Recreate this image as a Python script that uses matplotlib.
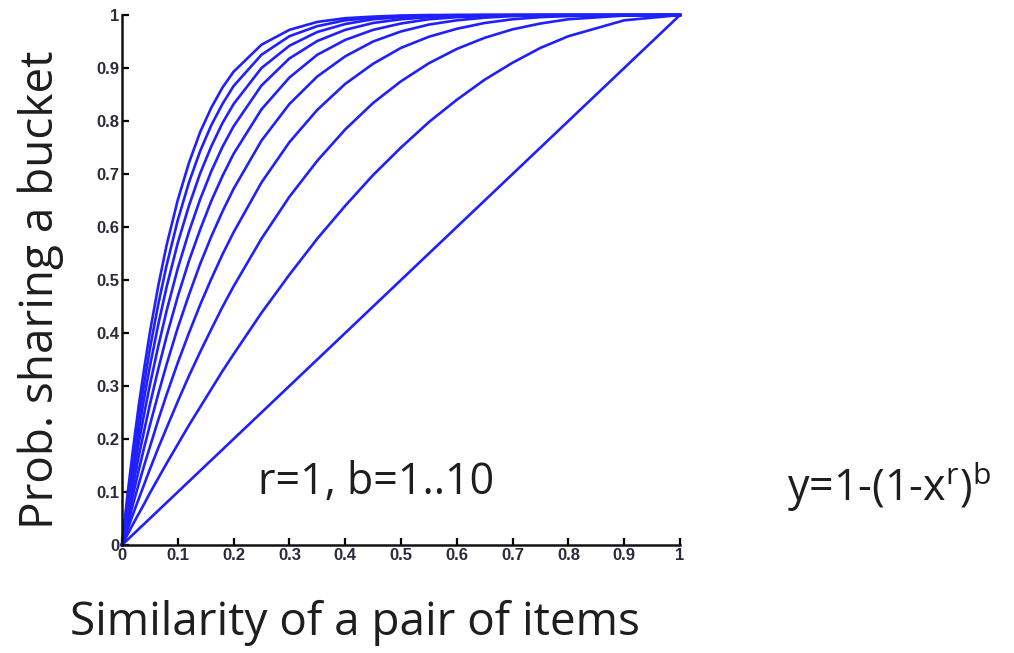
import matplotlib.pyplot as plt
from matplotlib.ticker import MultipleLocator

plt.rcParams['mathtext.fontset'] = 'custom'
plt.rcParams['mathtext.rm'] = 'Open Sans'

# similarity grid and bucket-sharing probability, r=1, b=1..10
similarity = [0, 0.01, 0.02, 0.03, 0.04, 0.05, 0.065, 0.08, 0.1, 0.12, 0.14, 0.16,
              0.18, 0.2, 0.25, 0.3, 0.35, 0.4, 0.45, 0.5, 0.55, 0.6, 0.65, 0.7,
              0.75, 0.8, 0.9, 1.0]

prob_b1 = [0, 0.01, 0.02, 0.03, 0.04, 0.05, 0.065, 0.08, 0.1, 0.12, 0.14, 0.16,
           0.18, 0.2, 0.25, 0.3, 0.35, 0.4, 0.45, 0.5, 0.55, 0.6, 0.65, 0.7,
           0.75, 0.8, 0.9, 1.0]
prob_b2 = [0, 0.020, 0.040, 0.059, 0.078, 0.098, 0.126, 0.154, 0.190, 0.226, 0.260, 0.294,
           0.328, 0.360, 0.438, 0.510, 0.578, 0.640, 0.698, 0.750, 0.798, 0.840, 0.878, 0.910,
           0.938, 0.960, 0.990, 1.0]
prob_b3 = [0, 0.030, 0.059, 0.087, 0.115, 0.143, 0.183, 0.221, 0.271, 0.319, 0.364, 0.407,
           0.449, 0.488, 0.578, 0.657, 0.725, 0.784, 0.834, 0.875, 0.909, 0.936, 0.957, 0.973,
           0.984, 0.992, 0.999, 1.0]
prob_b4 = [0, 0.039, 0.078, 0.115, 0.151, 0.185, 0.236, 0.284, 0.344, 0.400, 0.453, 0.502,
           0.548, 0.590, 0.684, 0.760, 0.821, 0.870, 0.908, 0.938, 0.959, 0.974, 0.985, 0.992,
           0.996, 0.998, 1.0, 1.0]
prob_b5 = [0, 0.049, 0.096, 0.141, 0.185, 0.226, 0.285, 0.341, 0.410, 0.472, 0.530, 0.582,
           0.629, 0.672, 0.763, 0.832, 0.884, 0.922, 0.950, 0.969, 0.982, 0.990, 0.995, 0.998,
           0.999, 1.0, 1.0, 1.0]
prob_b6 = [0, 0.059, 0.114, 0.167, 0.217, 0.265, 0.332, 0.394, 0.469, 0.536, 0.595, 0.649,
           0.696, 0.738, 0.822, 0.882, 0.925, 0.953, 0.972, 0.984, 0.992, 0.996, 0.998, 0.999,
           1.0, 1.0, 1.0, 1.0]
prob_b7 = [0, 0.068, 0.132, 0.192, 0.249, 0.302, 0.375, 0.442, 0.522, 0.591, 0.652, 0.705,
           0.751, 0.790, 0.867, 0.918, 0.951, 0.972, 0.985, 0.992, 0.996, 0.998, 0.999, 1.0,
           1.0, 1.0, 1.0, 1.0]
prob_b8 = [0, 0.077, 0.149, 0.216, 0.279, 0.337, 0.416, 0.487, 0.570, 0.640, 0.701, 0.752,
           0.796, 0.832, 0.900, 0.942, 0.968, 0.983, 0.992, 0.996, 0.998, 0.999, 1.0, 1.0,
           1.0, 1.0, 1.0, 1.0]
prob_b9 = [0, 0.086, 0.166, 0.240, 0.307, 0.370, 0.454, 0.528, 0.613, 0.684, 0.743, 0.792,
           0.832, 0.866, 0.925, 0.960, 0.979, 0.990, 0.995, 0.998, 0.999, 1.0, 1.0, 1.0,
           1.0, 1.0, 1.0, 1.0]
prob_b10 = [0, 0.096, 0.183, 0.263, 0.335, 0.401, 0.489, 0.566, 0.651, 0.721, 0.779, 0.825,
            0.863, 0.893, 0.944, 0.972, 0.987, 0.994, 0.997, 0.999, 1.0, 1.0, 1.0, 1.0,
            1.0, 1.0, 1.0, 1.0]

curves = [prob_b1, prob_b2, prob_b3, prob_b4, prob_b5,
          prob_b6, prob_b7, prob_b8, prob_b9, prob_b10]

fig = plt.figure(figsize=(10.14, 6.53), dpi=100)
ax = fig.add_axes([0.1203, 0.1654, 0.5503, 0.8116])

for ys in curves:
    ax.plot(similarity, ys, color='#2020ff', linewidth=1.9, clip_on=False)

ax.set_xlim(0, 1)
ax.set_ylim(0, 1)
ax.xaxis.set_major_locator(MultipleLocator(0.1))
ax.yaxis.set_major_locator(MultipleLocator(0.1))
ax.xaxis.set_major_formatter(lambda v, pos: '%g' % round(v, 1))
ax.yaxis.set_major_formatter(lambda v, pos: '%g' % round(v, 1))

for side in ['top', 'right']:
    ax.spines[side].set_visible(False)
for side in ['left', 'bottom']:
    ax.spines[side].set_linewidth(1.8)
    ax.spines[side].set_color('#111111')
ax.tick_params(direction='in', length=5, width=1.6, pad=2,
               labelsize=12, labelcolor='#2a2a3a')
for lab in ax.get_xticklabels() + ax.get_yticklabels():
    lab.set_family('Liberation Sans')
    lab.set_weight('bold')

txt = dict(family='Open Sans', color='#1e1e1e', ha='center', va='center')
fig.text(355 / 1014, 1 - 623 / 653, 'Similarity of a pair of items', fontsize=33, **txt)
fig.text(41 / 1014, 1 - 290 / 653, 'Prob. sharing a bucket', fontsize=33,
         rotation=90, **txt)
fig.text(376 / 1014, 1 - 483 / 653, 'r=1, b=1..10', fontsize=31, **txt)
fig.text(889 / 1014, 1 - 487 / 653,
         r'y=1-(1-x$^{\mathregular{r}}$)$^{\mathregular{b}}$', fontsize=31, **txt)

fig.savefig('out.png', dpi=100)
